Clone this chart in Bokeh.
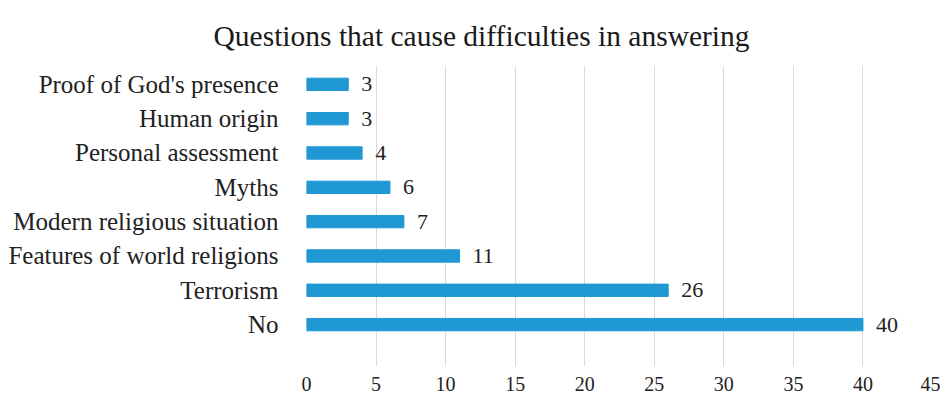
from bokeh.plotting import figure
from bokeh.models import Range1d, ColumnDataSource, FixedTicker, LabelSet
from bokeh.embed import file_html
from bokeh.resources import INLINE

categories = ["No", "Terrorism", "Features of world religions", "Modern religious situation",
              "Myths", "Personal assessment", "Human origin", "Proof of God's presence"]
values = [40, 26, 11, 7, 6, 4, 3, 3]
x_ticks = [0, 5, 10, 15, 20, 25, 30, 35, 40, 45]
title_text = "Questions that cause difficulties in answering"

SERIF = "Liberation Serif"
pos = list(range(len(categories)))
src = ColumnDataSource(dict(y=pos, v=values, lab=[str(v) for v in values], cat=categories))

p = figure(width=940, height=406, output_backend="svg", toolbar_location=None,
           x_range=Range1d(0, 45), y_range=Range1d(-1.22, 7.52),
           min_border_left=306, min_border_right=8, min_border_top=66, min_border_bottom=40)
p.outline_line_color = None
p.background_fill_color = "white"
p.border_fill_color = "white"

p.title.text = title_text
p.title.align = "left"
p.title.offset = -93
p.title.text_font = SERIF
p.title.text_font_size = "29.5px"
p.title.text_font_style = "normal"
p.title.text_color = "#1a1a1a"
p.title.standoff = 30

p.hbar(y="y", right="v", left=0, height=0.36, source=src, color="#1f98d4")

labels = LabelSet(x="v", y="y", text="lab", source=src, x_offset=13, y_offset=0,
                  text_baseline="middle", text_font=SERIF, text_font_size="22px",
                  text_color="#222222")
p.add_layout(labels)

p.xaxis.ticker = FixedTicker(ticks=x_ticks)
p.xaxis.axis_line_color = None
p.xaxis.major_tick_line_color = None
p.xaxis.minor_tick_line_color = None
p.xaxis.major_label_text_font = SERIF
p.xaxis.major_label_text_font_size = "20px"
p.xaxis.major_label_text_color = "#222222"
p.xaxis.major_label_standoff = 4

p.yaxis.ticker = FixedTicker(ticks=pos)
p.yaxis.major_label_overrides = {i: c for i, c in enumerate(categories)}
p.yaxis.axis_line_color = None
p.yaxis.major_tick_line_color = None
p.yaxis.minor_tick_line_color = None
p.yaxis.major_label_text_font = SERIF
p.yaxis.major_label_text_font_size = "25px"
p.yaxis.major_label_text_color = "#222222"
p.yaxis.major_label_standoff = 22

p.xgrid.grid_line_color = "#d9d9d9"
p.ygrid.grid_line_color = None

open("out.html", "w").write(file_html(p, INLINE))
